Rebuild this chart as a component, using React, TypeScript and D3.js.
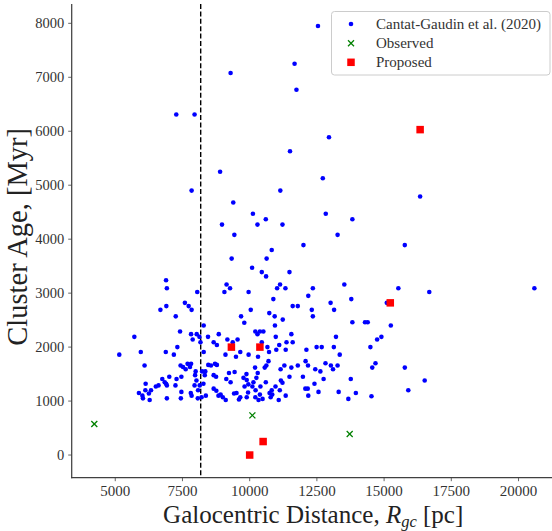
import React from "react";
import * as d3 from "d3";

// Cantat-Gaudin et al. (2020): galactocentric distance [pc]
const cgX = [
  12540, 11670, 9290, 11740, 7270, 7950, 12950, 11500, 8900, 12720, 7840, 11140, 9390, 10120, 12830, 8970, 10290, 10600, 11220, 9430, 10820, 12000, 9330, 10630,
  16340, 13820, 13270, 15770,
  6890, 6920, 8050, 7590, 7730, 6900, 6680, 7840, 7250, 8290, 7410, 7820, 8030, 8130, 8450, 5710, 7880, 8170, 7310, 5950, 6880, 8290, 7180, 5150,
  6090, 7430, 7520, 7690, 7820, 7780, 7620, 7990, 8230, 8350, 7970, 8330, 7460, 7010, 6750, 7280, 8020, 6840, 6130, 6890, 6920, 6610, 6510, 7240,
  7950, 8140, 8280, 6330, 6120, 8080, 5880, 6250, 7460, 7810, 7840, 6010, 6030, 6280, 6920, 7440, 8070, 8210, 8370,
  10450, 10610, 11480, 9140, 9270, 9060, 9960, 11130, 11020, 11330, 12350, 12180, 10880, 11600, 11790, 12310, 10040, 10730, 12350, 9680, 10930,
  11230, 9800, 10940, 10210, 10380, 10510, 10290, 11550, 8850, 10970, 9170, 8660, 9370, 9550, 10450, 11370, 11600, 8780, 11100, 10660, 9100,
  9490, 9650, 9960, 10310, 10720, 10990, 11340, 12110, 12490, 10700, 10560, 10200, 10300, 10620, 11290, 11550, 11790, 11150, 12080, 12170, 12440,
  9440, 9230, 8560, 8710, 8780, 8660, 8750, 9130, 9290, 9880, 9770, 9890, 10250, 11480, 11980, 11160, 11220, 10600, 10140, 9950, 9810, 10100,
  10400, 10960, 12410, 8660, 8760, 10220, 10820, 11120, 12070, 12160, 9510, 9420, 9940, 10380, 10740, 10840, 8920, 8840, 9000, 9650, 9600, 9890,
  10210, 10780, 11340, 12180, 12560, 9110, 10330, 10480, 11080, 8460,
  13520, 15530, 16680, 13010, 13780, 15100, 13140, 13820, 14290, 14390, 15250, 13210, 14740, 14900, 12680, 13130, 14490, 13350, 12820, 13020,
  13270, 14680, 14560, 15770, 12630, 13100, 12750, 13760, 16510, 15900, 13310, 13950, 13670, 14530,
  10090, 20590,
];
// Cantat-Gaudin et al. (2020): cluster age [Myr]
const cgAge = [
  7950, 7250, 7080, 6770, 6310, 6310, 5890, 5630, 5250, 5130, 4900, 4900, 4680, 4470, 4470, 4270, 4270, 4370, 4270, 4080, 3800, 3890, 3640, 3640,
  4790, 4370, 4080, 3890,
  3240, 3090, 3020, 2820, 2760, 2760, 2690, 2690, 2570, 2400, 2290, 2240, 2240, 2190, 2190, 2190, 2140, 2090, 2000, 1910, 1910, 1910, 1860, 1860,
  1660, 1660, 1630, 1690, 1690, 1630, 1590, 1550, 1550, 1550, 1480, 1480, 1450, 1450, 1410, 1410, 1380, 1350, 1320, 1320, 1290, 1290, 1270, 1290,
  1290, 1290, 1320, 1200, 1200, 1200, 1150, 1140, 1170, 1150, 1100, 1100, 1050, 1020, 1050, 1050, 1050, 1070, 1100,
  3390, 3310, 3390, 3160, 3090, 3020, 3020, 3160, 3090, 3090, 3090, 2950, 2890, 2760, 2760, 2690, 2690, 2630, 2570, 2570, 2570,
  2510, 2450, 2400, 2290, 2290, 2290, 2240, 2240, 2240, 2190, 2140, 2090, 2090, 2140, 2090, 2090, 2090, 2040, 2040, 2000, 1860,
  1820, 1910, 1860, 1820, 1910, 1950, 1950, 1950, 2000, 1740, 1620, 1620, 1520, 1660, 1660, 1620, 1660, 1590, 1740, 1660, 1590,
  1540, 1520, 1660, 1690, 1670, 1480, 1450, 1410, 1350, 1500, 1430, 1390, 1430, 1450, 1450, 1380, 1340, 1350, 1350, 1310, 1270, 1270,
  1270, 1270, 1320, 1230, 1190, 1200, 1200, 1200, 1230, 1230, 1150, 1140, 1160, 1120, 1150, 1120, 1120, 1100, 1070, 1070, 1030, 1070,
  1070, 1070, 1100, 1100, 1170, 1020, 1020, 1040, 1020, 1670,
  3160, 3090, 3020, 2820, 2890, 2820, 2690, 2460, 2460, 2460, 2400, 2190, 2140, 2190, 2000, 2000, 2000, 1860, 1700, 1660,
  1660, 1700, 1620, 1620, 1550, 1590, 1410, 1410, 1380, 1200, 1170, 1150, 1040, 1090,
  3470, 3090,
];

const obsX = [4220, 10100, 13720];
const obsAge = [575, 735, 390];

const propX = [10000, 10500, 9320, 10380, 15230, 16340];
const propAge = [0, 250, 2000, 2000, 2820, 6030];

const xTicks = [5000, 7500, 10000, 12500, 15000, 17500, 20000];
const yTicks = [0, 1000, 2000, 3000, 4000, 5000, 6000, 7000, 8000];
const sunR = 8178;

const legendLabels = ["Cantat-Gaudin et al. (2020)", "Observed", "Proposed"];

const W = 552;
const H = 531;
const FONT = "'Liberation Serif', 'DejaVu Serif', serif";

export default function App() {
  const x = d3.scaleLinear().domain([3380, 21420]).range([71.7, 556.7]);
  const y = d3.scaleLinear().domain([-420, 8358]).range([477.7, 4]);
  const [y0, y1] = y.range();
  const axisColor = "#404040";

  const cg = cgX.map((v, i) => ({ x: v, y: cgAge[i] }));
  const obs = obsX.map((v, i) => ({ x: v, y: obsAge[i] }));
  const prop = propX.map((v, i) => ({ x: v, y: propAge[i] }));

  const sq = 7.5;
  const cross = 3;

  const lgX = 331.5;
  const lgY = 11.5;
  const lgW = 218.5;
  const lgH = 63.5;
  const rowY = [24, 43.3, 62.3];
  const mX = 351;
  const tX = 376;

  return (
    <svg
      width={W}
      height={H}
      style={{ position: "absolute", left: 0, top: 0, background: "#fff" }}
      fontFamily={FONT}
    >
      <rect x={0} y={0} width={W} height={H} fill="#fff" />
      {/* dashed solar radius line */}
      <line
        x1={x(sunR)}
        x2={x(sunR)}
        y1={y1}
        y2={y0}
        stroke="#000"
        strokeWidth={1.4}
        strokeDasharray="5,2.4"
      />
      {/* blue points */}
      {cg.map((d, i) => (
        <circle key={"c" + i} cx={x(d.x)} cy={y(d.y)} r={2.3} fill="#0000ff" />
      ))}
      {/* observed */}
      {obs.map((d, i) => {
        const cx = x(d.x);
        const cy = y(d.y);
        return (
          <g key={"o" + i} stroke="#008000" strokeWidth={1.3}>
            <line x1={cx - cross} y1={cy - cross} x2={cx + cross} y2={cy + cross} />
            <line x1={cx - cross} y1={cy + cross} x2={cx + cross} y2={cy - cross} />
          </g>
        );
      })}
      {/* proposed */}
      {prop.map((d, i) => (
        <rect
          key={"p" + i}
          x={x(d.x) - sq / 2}
          y={y(d.y) - sq / 2}
          width={sq}
          height={sq}
          fill="#ff0000"
        />
      ))}
      {/* spines */}
      <line x1={x.range()[0]} x2={x.range()[0]} y1={y1} y2={y0 + 0.6} stroke={axisColor} strokeWidth={1.25} />
      <line x1={x.range()[0] - 0.6} x2={W} y1={y0} y2={y0} stroke={axisColor} strokeWidth={1.25} />
      {/* x ticks */}
      {xTicks.map((t) => (
        <g key={"xt" + t}>
          <line x1={x(t)} x2={x(t)} y1={y0} y2={y0 + 3.5} stroke={axisColor} strokeWidth={0.8} />
          <text x={x(t)} y={y0 + 18.5} textAnchor="middle" fontSize={15} fill="#333">
            {t}
          </text>
        </g>
      ))}
      {/* y ticks */}
      {yTicks.map((t) => (
        <g key={"yt" + t}>
          <line x1={x.range()[0] - 3.5} x2={x.range()[0]} y1={y(t)} y2={y(t)} stroke={axisColor} strokeWidth={0.8} />
          <text x={x.range()[0] - 7.5} y={y(t) + 5} textAnchor="end" fontSize={14.5} fill="#333">
            {t}
          </text>
        </g>
      ))}
      {/* axis labels */}
      <text x={(x.range()[0] + x.range()[1]) / 2 - 1} y={522.5} textAnchor="middle" fontSize={25} fill="#222">
        Galocentric Distance,{" "}
        <tspan fontStyle="italic">R</tspan>
        <tspan fontStyle="italic" fontSize={16.5} dy={4}>gc</tspan>
        <tspan dy={-4}> [pc]</tspan>
      </text>
      <text
        transform={`translate(27, ${(y0 + y1) / 2 - 4}) rotate(-90)`}
        textAnchor="middle"
        fontSize={28.5}
        fill="#222"
      >
        Cluster Age, [Myr]
      </text>
      {/* legend */}
      <rect x={lgX} y={lgY} width={lgW} height={lgH} rx={3} fill="#fff" fillOpacity={0.8} stroke="#cccccc" strokeWidth={1} />
      <circle cx={mX} cy={rowY[0]} r={2.3} fill="#0000ff" />
      <g stroke="#008000" strokeWidth={1.3}>
        <line x1={mX - cross} y1={rowY[1] - cross} x2={mX + cross} y2={rowY[1] + cross} />
        <line x1={mX - cross} y1={rowY[1] + cross} x2={mX + cross} y2={rowY[1] - cross} />
      </g>
      <rect x={mX - sq / 2} y={rowY[2] - sq / 2} width={sq} height={sq} fill="#ff0000" />
      {legendLabels.map((l, i) => (
        <text key={l} x={tX} y={rowY[i] + 4.8} fontSize={15} fill="#333">
          {l}
        </text>
      ))}
    </svg>
  );
}
